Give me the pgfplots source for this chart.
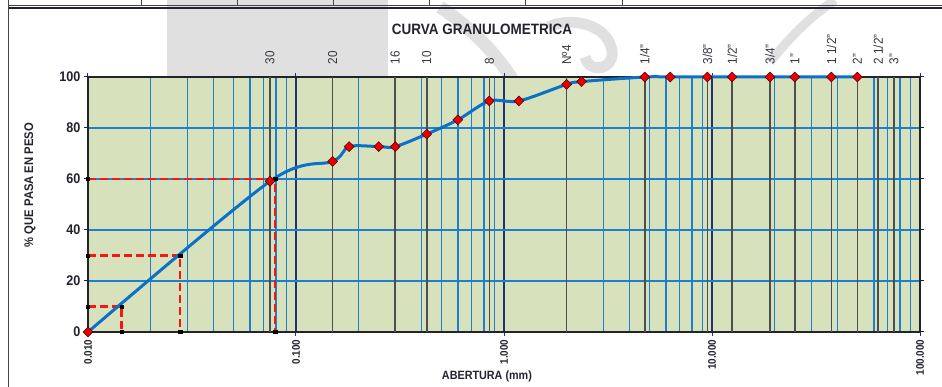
\documentclass[border=0pt]{standalone}
\usepackage{fontspec}
\setmainfont{Liberation Sans}[FakeStretch=0.9]
\usepackage{pgfplots}
\usepackage{pgfplotstable}
\pgfplotsset{compat=1.18}

\definecolor{plotbg}{RGB}{215,226,189}
\definecolor{gridblue}{RGB}{30,128,205}
\definecolor{decade}{RGB}{30,52,110}
\definecolor{sieve}{RGB}{78,78,78}
\definecolor{curveblue}{RGB}{10,112,200}
\definecolor{markred}{RGB}{232,0,0}
\definecolor{ink}{RGB}{35,35,45}
\definecolor{labelgray}{RGB}{55,55,65}
\definecolor{wm}{RGB}{224,224,224}
\definecolor{dashred}{RGB}{250,20,20}

% passing percentage by sieve opening (mm)
\pgfplotstableread{
d p
0.010 0
0.075 59.1
0.150 66.9
0.180 72.7
0.250 72.7
0.300 72.7
0.425 77.6
0.600 83.2
0.850 90.6
1.180 90.6
2.000 97.1
2.360 98.2
4.750 100
6.300 100
9.500 100
12.500 100
19.000 100
25.000 100
37.500 100
50.000 100
}\gradation

% standard sieve openings marked across the chart (mm)
\pgfplotstableread{
d h
0.075 100
0.150 100
0.300 100
0.425 100
0.850 100
2.000 100
4.750 100
9.500 100
12.500 100
19.000 100
25.000 100
37.500 100
50.000 100
63.000 100
75.000 100
}\sieves

% D10, D30 and D60 read-off points
\pgfplotstableread{
d p
0.0100 10
0.0145 10
0.0145 0
0.0100 30
0.0277 30
0.0277 0
0.0100 60
0.0796 60
0.0796 0
}\readoffs

\pgfplotsset{
  readoff/.style={color=dashred, solid, line width=2.2pt, dash pattern=on 8pt off 4pt, no marks},
}

\begin{document}
\begin{tikzpicture}
\path[use as bounding box] (0pt,0pt) rectangle (942pt,387pt);

% faint watermark behind the sheet
\fill[wm] (167pt,311pt) rectangle (388pt,387pt);
\draw[wm, line width=13pt] (440pt,380pt) .. controls (470pt,360pt) and (495pt,335pt) .. (512pt,308pt);
\draw[wm, line width=11pt] (548pt,360pt) .. controls (575pt,372pt) and (610pt,360pt) .. (612pt,335pt)
      .. controls (614pt,318pt) and (590pt,312pt) .. (585pt,330pt);
\draw[wm, line width=9pt] (770pt,325pt) .. controls (790pt,350pt) and (810pt,370pt) .. (835pt,387pt);

% sheet frame and table rule
\draw[ink!85, line width=0.8pt] (8pt,382pt) -- (942pt,382pt);
\draw[ink, line width=2pt] (8pt,378.6pt) -- (942pt,378.6pt);
\foreach \cx in {141,237,333,429,525,622} \draw[ink!85, line width=0.8pt] (\cx pt,382pt) -- (\cx pt,387pt);
\draw[ink!85, line width=1.2pt] (8.5pt,0pt) -- (8.5pt,387pt);

\begin{axis}[
  at={(88pt,55pt)}, anchor=south west,
  scale only axis, width=832pt, height=255pt,
  xmode=log, xmin=0.01, xmax=100, ymin=0, ymax=100,
  axis background/.style={fill=plotbg},
  axis line style={ink, line width=1.2pt},
  xtick={0.01,0.1,1,10,100},
  xticklabels={0.010,0.100,1.000,10.000,100.000},
  ytick={0,20,40,60,80,100},
  tick align=outside, major tick length=4pt, minor tick length=0pt,
  xtick style={decade, line width=1pt},
  ytick style={ink, line width=1pt},
  xmajorgrids, xminorgrids, ymajorgrids,
  major x grid style={decade, line width=1.4pt},
  minor x grid style={gridblue, line width=1.4pt},
  major y grid style={gridblue, line width=1.4pt},
  tick label style={text=ink},
  xticklabel style={rotate=90, anchor=east, font=\bfseries\fontsize{11}{11}\selectfont},
  yticklabel style={font=\bfseries\fontsize{14}{14}\selectfont},
  /pgf/number format/assume math mode=true,
  xlabel={ABERTURA (mm)},
  xlabel style={at={(axis description cs:0.4795,-0.176)}, anchor=center,
                font=\bfseries\fontsize{12}{12}\selectfont, text=ink},
  ylabel={\% QUE PASA EN PESO},
  ylabel style={at={(axis description cs:-0.0697,0.576)}, anchor=center,
                font=\bfseries\fontsize{12.5}{12.5}\selectfont, text=ink},
  clip=false,
]
% sieve lines
\addplot[ycomb, sieve, line width=1.6pt, no marks] table[x=d, y=h] {\sieves};
% D10, D30, D60 read-off lines
\addplot[readoff] table[x=d, y=p, skip coords between index={3}{9}] {\readoffs};
\addplot[readoff] table[x=d, y=p, skip coords between index={0}{3}, skip coords between index={6}{9}] {\readoffs};
\addplot[readoff] table[x=d, y=p, skip coords between index={0}{6}] {\readoffs};
\addplot[only marks, mark=square*, mark size=1.7pt, fill=black, draw=black]
  table[x=d, y=p] {\readoffs};
% grading curve
\addplot[curveblue, line width=3pt, smooth,
  mark=square*, mark size=3.5pt,
  mark options={solid, rotate=45, fill=markred, draw=black!70!red, line width=0.5pt}]
  table[x=d, y=p] {\gradation};
\end{axis}

\begin{axis}[
  at={(88pt,55pt)}, anchor=south west,
  scale only axis, width=832pt, height=255pt,
  xmode=log, xmin=0.01, xmax=100, ymin=0, ymax=100,
  hide y axis, axis x line*=top,
  x axis line style={draw=none},
  xtick={0.075,0.15,0.3,0.425,0.85,2,4.75,9.5,12.5,19,25,37.5,50,63,75},
  xticklabels={30,20,16,10,8,Nº4,1/4",3/8",1/2",3/4",1",1 1/2",2",2 1/2",3"},
  xtick style={draw=none}, minor tick length=0pt, major tick length=0pt,
  xticklabel style={rotate=90, anchor=west, font=\fontsize{13}{13}\selectfont, text=labelgray},
  xticklabel shift=9pt,
  title={CURVA GRANULOMETRICA},
  title style={at={(axis description cs:0.4736,1)}, anchor=center, yshift=42pt,
               font=\bfseries\fontsize{15}{15}\selectfont, text=ink},
]
\end{axis}
\end{tikzpicture}
\end{document}
